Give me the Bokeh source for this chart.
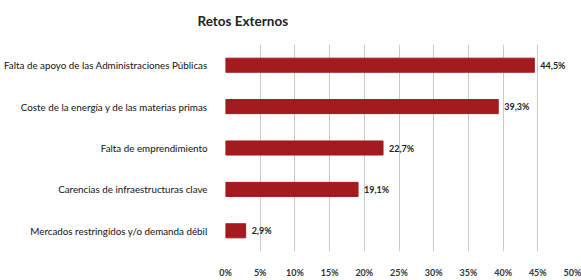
from bokeh.plotting import figure
from bokeh.models import FactorRange, Range1d, FixedTicker, ColumnDataSource, Title
from bokeh.embed import file_html
from bokeh.resources import INLINE
from bokeh.core.properties import value

categories = [
    "Falta de apoyo de las Administraciones Públicas",
    "Coste de la energía y de las materias primas",
    "Falta de emprendimiento",
    "Carencias de infraestructuras clave",
    "Mercados restringidos y/o demanda débil",
]
values = [44.5, 39.3, 22.7, 19.1, 2.9]
value_labels = ["44,5%", "39,3%", "22,7%", "19,1%", "2,9%"]
tick_values = [0, 5, 10, 15, 20, 25, 30, 35, 40, 45, 50]
tick_labels = ["0%", "5%", "10%", "15%", "20%", "25%", "30%", "35%", "40%", "45%", "50%"]

FONT = "Lato"
BAR = "#a31b1f"

src = ColumnDataSource(dict(cat=categories, val=values, lbl=value_labels))

p = figure(
    width=581, height=280,
    y_range=FactorRange(factors=categories[::-1], range_padding=0),
    x_range=Range1d(0, 50),
    output_backend="svg", toolbar_location=None,
    min_border_left=225, min_border_right=9, min_border_top=44, min_border_bottom=17,
    title="Retos Externos",
)
p.outline_line_color = None
p.background_fill_color = "white"
p.border_fill_color = "white"

# blank spacer between title and plot area
p.add_layout(Title(text=" ", text_font_size="8px", standoff=0), "above")

p.title.align = "left"
p.title.offset = -28
p.title.text_font = FONT
p.title.text_font_size = "13.5px"
p.title.text_font_style = "bold"
p.title.text_color = "#222222"

p.hbar(y="cat", right="val", left=0, height=0.34, color=BAR, source=src)
p.text(x="val", y="cat", text="lbl", source=src, x_offset=6,
       text_baseline="middle", text_align="left",
       text_font=value(FONT), text_font_size="9px", text_font_style="bold",
       text_color="#222222")

p.xaxis.ticker = FixedTicker(ticks=tick_values)
p.xaxis.major_label_overrides = {v: l for v, l in zip(tick_values, tick_labels)}
p.xaxis.axis_line_color = None
p.xaxis.major_tick_line_color = None
p.xaxis.minor_tick_line_color = None
p.xaxis.major_label_standoff = 9
p.xaxis.major_label_text_font = FONT
p.xaxis.major_label_text_font_size = "9px"
p.xaxis.major_label_text_font_style = "bold"
p.xaxis.major_label_text_color = "#333333"

p.yaxis.axis_line_color = None
p.yaxis.major_tick_line_color = None
p.yaxis.minor_tick_line_color = None
p.yaxis.major_label_standoff = 12
p.yaxis.major_label_text_font = FONT
p.yaxis.major_label_text_font_size = "9.8px"
p.yaxis.major_label_text_color = "#111111"

p.xgrid.ticker = FixedTicker(ticks=tick_values)
p.xgrid.grid_line_color = "#c8c8c8"
p.xgrid.grid_line_width = 1
p.ygrid.grid_line_color = None

open("out.html", "w").write(file_html(p, INLINE))
